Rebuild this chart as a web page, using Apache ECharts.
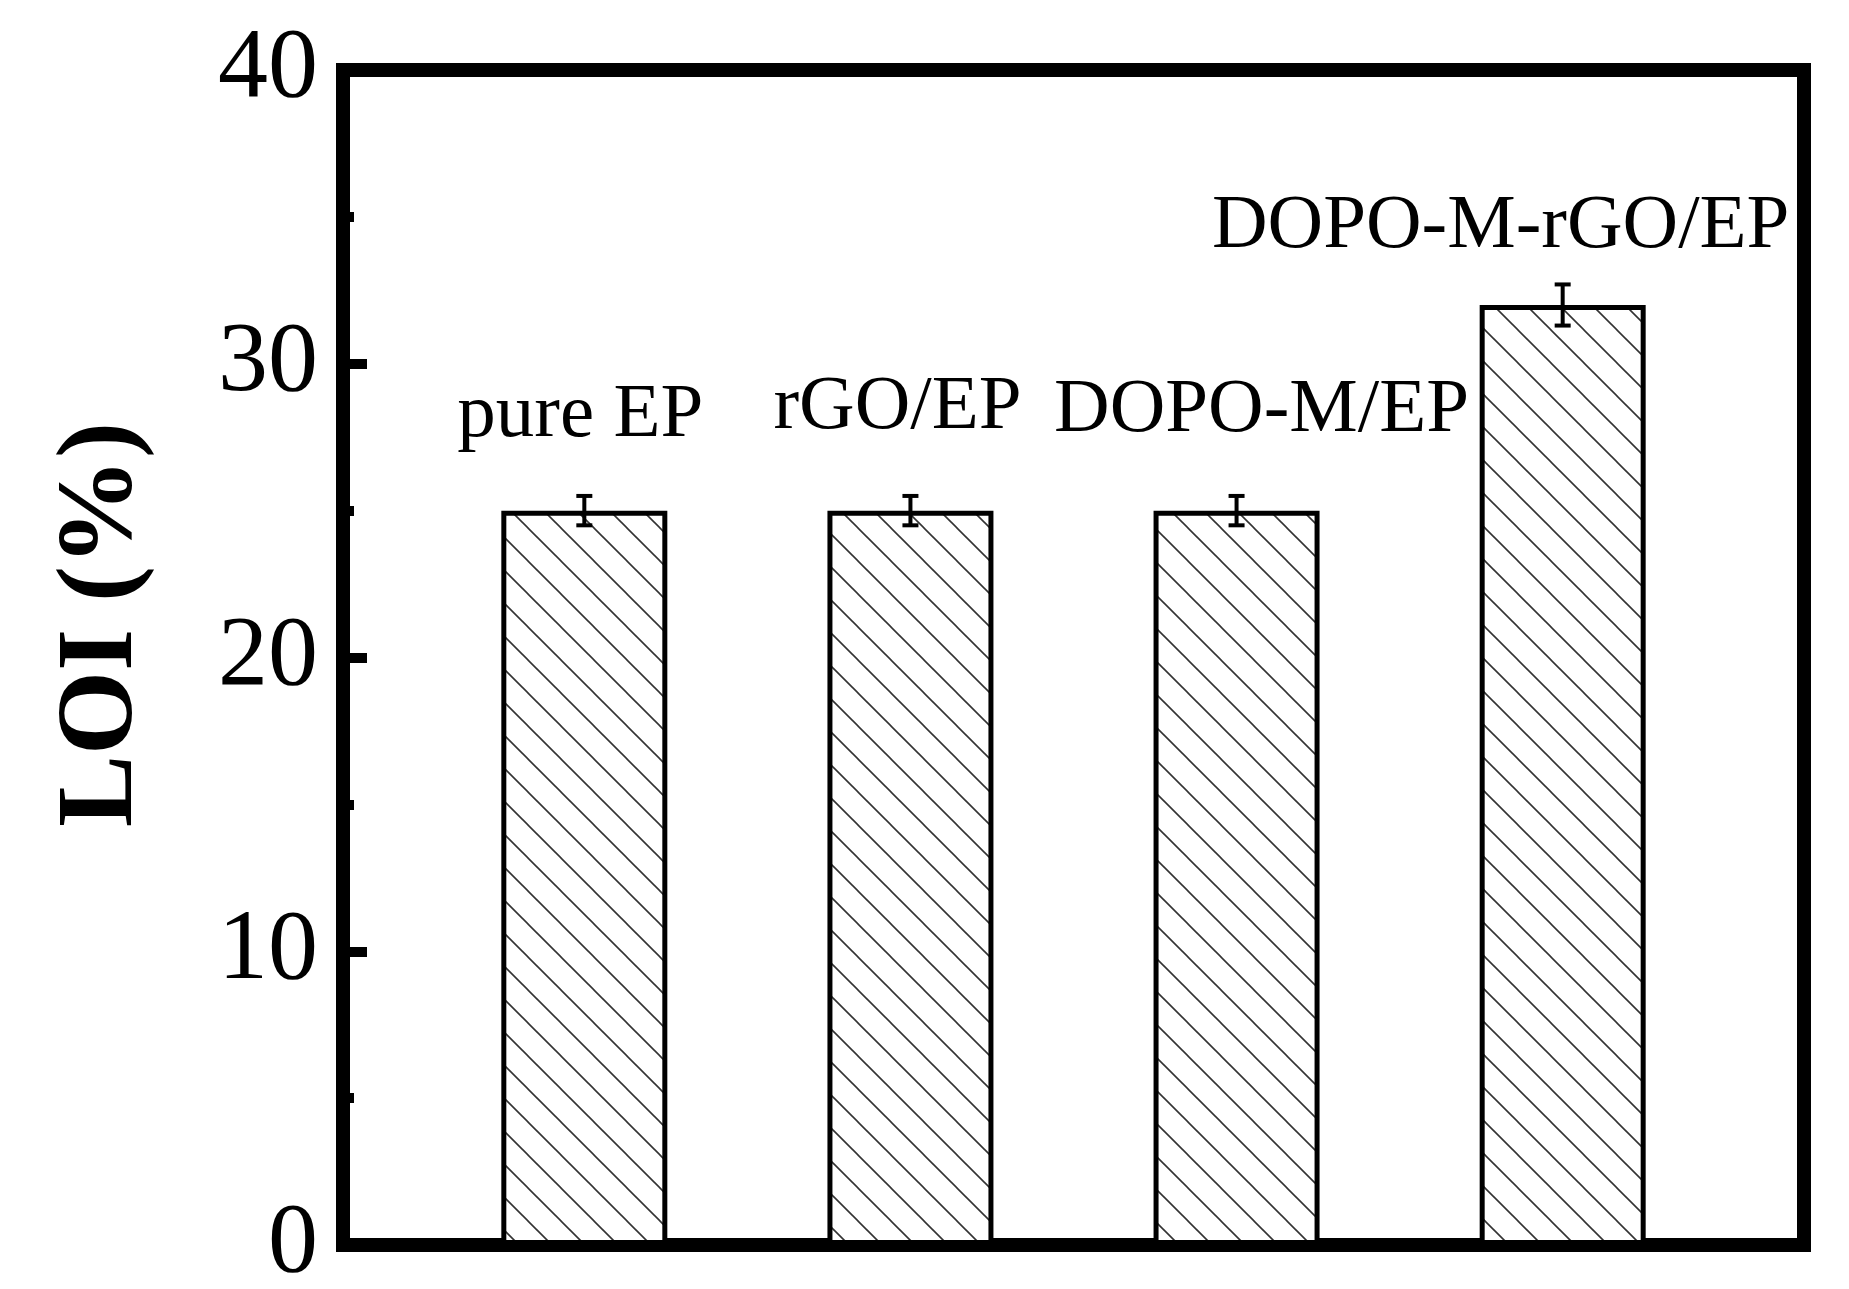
<!DOCTYPE html>
<html>
<head>
<meta charset="utf-8">
<script src="https://cdn.jsdelivr.net/npm/echarts@6/dist/echarts.min.js"></script>
<style>
html, body { margin: 0; padding: 0; background: #fff; }
#chart { width: 1849px; height: 1289px; }
</style>
</head>
<body>
<div id="chart"></div>
<script>
const categories = ['pure EP', 'rGO/EP', 'DOPO-M/EP', 'DOPO-M-rGO/EP']
const loiValues = [25, 25, 25, 32]
const loiErrors = [0.5, 0.5, 0.5, 0.7]

// the sample names sit a bit off the bar centres in the figure
const labelOffsets = [[-4, -56], [-13, -64], [25, -61], [-62, -40]]

const serif = '"Liberation Serif", "Times New Roman", serif'

// diagonal hatch like the original bars
function hatchPattern() {
  const size = 33
  const canvas = document.createElement('canvas')
  canvas.width = size
  canvas.height = size
  const ctx = canvas.getContext('2d')
  ctx.fillStyle = '#fff'
  ctx.fillRect(0, 0, size, size)
  ctx.strokeStyle = '#333'
  ctx.lineWidth = 1.6
  ;[-size, 0, size].forEach(function (d) {
    ctx.beginPath()
    ctx.moveTo(d - 1, -1)
    ctx.lineTo(d + size + 1, size + 1)
    ctx.stroke()
  })
  return canvas
}

const chart = echarts.init(document.getElementById('chart'))

const option = {
  backgroundColor: '#fff',
  animation: false,
  grid: {
    left: 343,
    right: 45,
    top: 70,
    bottom: 44,
    containLabel: false,
    outerBoundsMode: 'none',
    show: true,
    borderColor: '#000',
    borderWidth: 14,
    backgroundColor: 'transparent'
  },
  xAxis: {
    type: 'value',
    min: -0.74,
    max: 3.74,
    axisLine: { show: false, onZero: false },
    axisTick: { show: false },
    axisLabel: { show: false },
    splitLine: { show: false }
  },
  yAxis: {
    type: 'value',
    min: 0,
    max: 40,
    interval: 10,
    name: 'LOI (%)',
    nameLocation: 'middle',
    nameRotate: 90,
    nameGap: 186,
    nameTextStyle: {
      fontFamily: serif,
      fontWeight: 'bold',
      fontSize: 108,
      color: '#000',
      padding: [0, 0, 0, 66]
    },
    axisLine: { show: false, onZero: false },
    axisTick: {
      show: true,
      inside: true,
      length: 24,
      lineStyle: { color: '#000', width: 10 }
    },
    minorTick: {
      show: true,
      splitNumber: 2,
      length: 11,
      lineStyle: { color: '#000', width: 10 }
    },
    axisLabel: {
      fontFamily: serif,
      fontSize: 100,
      color: '#000',
      margin: 25
    },
    splitLine: { show: false }
  },
  series: [
    {
      type: 'bar',
      barWidth: 166,
      data: loiValues.map(function (v, i) {
        return { value: [i, v], label: { offset: labelOffsets[i] } }
      }),
      itemStyle: {
        color: { image: hatchPattern(), repeat: 'repeat' },
        borderColor: '#000',
        borderWidth: 5
      },
      label: {
        show: true,
        position: 'top',
        distance: 0,
        formatter: function (p) {
          return categories[p.dataIndex]
        },
        fontFamily: serif,
        fontSize: 77,
        color: '#000'
      },
      z: 2
    },
    {
      type: 'custom',
      data: loiValues.map(function (v, i) {
        return [i, v - loiErrors[i], v + loiErrors[i]]
      }),
      renderItem: function (params, api) {
        const lo = api.coord([api.value(0), api.value(1)])
        const hi = api.coord([api.value(0), api.value(2)])
        const half = 8
        const style = { stroke: '#000', lineWidth: 4 }
        return {
          type: 'group',
          children: [
            { type: 'line', shape: { x1: lo[0], y1: lo[1], x2: hi[0], y2: hi[1] }, style },
            { type: 'line', shape: { x1: lo[0] - half, y1: lo[1], x2: lo[0] + half, y2: lo[1] }, style },
            { type: 'line', shape: { x1: hi[0] - half, y1: hi[1], x2: hi[0] + half, y2: hi[1] }, style }
          ]
        }
      },
      z: 3
    }
  ]
}

chart.setOption(option)
</script>
</body>
</html>
